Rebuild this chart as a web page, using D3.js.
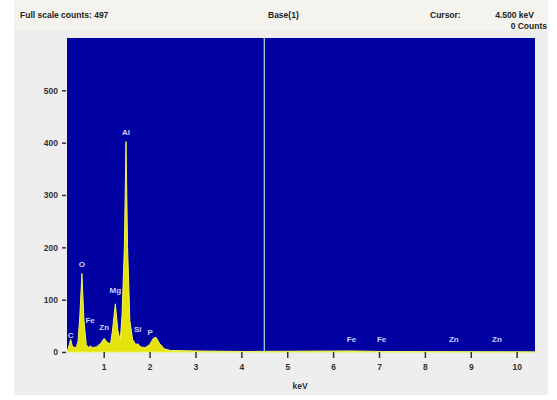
<!DOCTYPE html>
<html>
<head>
<meta charset="utf-8">
<script src="https://cdn.jsdelivr.net/npm/d3@7"></script>
<style>
  html, body { margin: 0; padding: 0; background: #fff; }
  svg text { font-family: "Liberation Sans", Arial, sans-serif; }
</style>
</head>
<body>
<div id="container"></div>
<script>
// spectrum: energy (keV) and counts
const energies = [0.20, 0.25, 0.28, 0.32, 0.40, 0.44, 0.48, 0.525, 0.57, 0.62, 0.68, 0.71, 0.75,
  0.85, 0.95, 1.01, 1.08, 1.15, 1.19, 1.253, 1.31, 1.36, 1.40, 1.45, 1.486, 1.52, 1.57, 1.63, 1.70,
  1.74, 1.80, 1.90, 2.00, 2.08, 2.14, 2.22, 2.32, 2.45, 3.00, 4.00, 6.40, 7.06, 10.40];
const counts = [0, 14, 24, 10, 8, 20, 70, 150, 60, 14, 8, 12, 8,
  10, 18, 26, 18, 16, 40, 92, 40, 22, 70, 200, 402, 200, 60, 24, 14,
  16, 10, 8, 14, 26, 28, 16, 6, 3, 2, 1, 2, 1, 0];

// peak labels
const elements = ['C', 'O', 'Fe', 'Zn', 'Mg', 'Al', 'Si', 'P', 'Fe', 'Fe', 'Zn', 'Zn'];
const elementKeV = [0.277, 0.525, 0.705, 1.012, 1.253, 1.486, 1.740, 2.013, 6.400, 7.058, 8.631, 9.572];
const labelCounts = [26, 162, 55, 42, 112, 415, 38, 32, 19, 19, 19, 19];

const xTicks = [1, 2, 3, 4, 5, 6, 7, 8, 9, 10];
const yTicks = [0, 100, 200, 300, 400, 500];
const cursorKeV = 4.5;

const width = 557;
const height = 400;
const plot = { left: 67, right: 535, top: 38, bottom: 352 };

const svg = d3.select('div#container').append('svg')
    .attr('width', width)
    .attr('height', height);

// panel background
svg.append('rect')
    .attr('x', 14).attr('y', 0)
    .attr('width', 534).attr('height', 395)
    .attr('fill', '#eeeeee');
svg.append('rect')
    .attr('x', 14).attr('y', 0)
    .attr('width', 534).attr('height', 30)
    .attr('fill', '#f4f3ee');

const x = d3.scaleLinear().domain([0.2, 10.4]).range([plot.left, plot.right]);
const y = d3.scaleLinear().domain([0, 600]).range([plot.bottom, plot.top]);

svg.append('rect')
    .attr('x', plot.left).attr('y', plot.top)
    .attr('width', plot.right - plot.left)
    .attr('height', plot.bottom - plot.top)
    .attr('fill', '#0202a2');

// spectrum
const spectrum = energies.map((e, i) => ({ e: e, c: counts[i] }));
const area = d3.area()
    .x((d) => x(d.e))
    .y0(y(0))
    .y1((d) => y(d.c));

svg.append('path')
    .datum(spectrum)
    .attr('d', area)
    .attr('fill', '#e4e40c')
    .attr('stroke', '#f2f25a')
    .attr('stroke-width', 1);

// cursor
svg.append('line')
    .attr('x1', x(cursorKeV)).attr('x2', x(cursorKeV))
    .attr('y1', plot.top).attr('y2', plot.bottom)
    .attr('stroke', '#a8e0d0')
    .attr('stroke-width', 1.2);

// element labels
svg.selectAll('text.el')
  .data(elements)
  .enter()
  .append('text')
  .attr('class', 'el')
  .attr('x', (d, i) => x(elementKeV[i]))
  .attr('y', (d, i) => y(labelCounts[i]))
  .attr('text-anchor', 'middle')
  .attr('font-size', 8)
  .attr('font-weight', 'bold')
  .attr('fill', '#c8d0ff')
  .text((d) => d);

// axes
const xAxis = d3.axisBottom(x).tickValues(xTicks).tickSize(6).tickPadding(6)
    .tickFormat(d3.format('d'));
const gx = svg.append('g')
    .attr('transform', `translate(0,${plot.bottom})`)
    .call(xAxis);
gx.select('.domain').remove();

const yAxis = d3.axisLeft(y).tickValues(yTicks).tickSize(4).tickPadding(4)
    .tickFormat(d3.format('d'));
const gy = svg.append('g')
    .attr('transform', `translate(${plot.left - 1},0)`)
    .call(yAxis);
gy.select('.domain').remove();

svg.selectAll('.tick line').attr('stroke', '#333').attr('stroke-width', 1.5);
svg.selectAll('.tick text')
    .attr('font-size', 8.5)
    .attr('font-weight', 'bold')
    .attr('fill', '#333');

svg.append('text')
    .attr('x', 300)
    .attr('y', 389)
    .attr('text-anchor', 'middle')
    .attr('font-size', 8.5)
    .attr('font-weight', 'bold')
    .attr('fill', '#333')
    .text('keV');

// header
const header = svg.append('g')
    .attr('font-size', 8.5)
    .attr('font-weight', 'bold')
    .attr('fill', '#222');
header.append('text').attr('x', 20).attr('y', 18).text('Full scale counts: 497');
header.append('text').attr('x', 268).attr('y', 18).text('Base(1)');
header.append('text').attr('x', 430).attr('y', 18).text('Cursor:');
header.append('text').attr('x', 534).attr('y', 18).attr('text-anchor', 'end').text('4.500 keV');
header.append('text').attr('x', 547).attr('y', 29).attr('text-anchor', 'end').text('0 Counts');
</script>
</body>
</html>
